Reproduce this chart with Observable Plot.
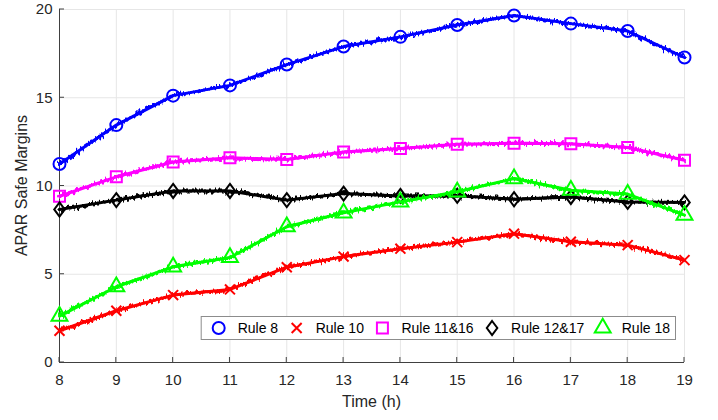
<!DOCTYPE html>
<html>
<head>
<meta charset="utf-8">
<script src="https://cdn.jsdelivr.net/npm/d3@7"></script>
<script src="https://cdn.jsdelivr.net/npm/@observablehq/plot@0.6"></script>
<style>
  html, body { margin: 0; padding: 0; background: #ffffff; }
  #chart { width: 718px; height: 420px; overflow: hidden; }
</style>
</head>
<body>
<div id="chart"></div>
<script>
// Hourly samples of the APAR safe margin for each rule
const hours = [8, 9, 10, 11, 12, 13, 14, 15, 16, 17, 18, 19];
const rule8    = [11.25, 13.45, 15.12, 15.70, 16.88, 17.90, 18.45, 19.12, 19.66, 19.20, 18.78, 17.28];
const rule10   = [1.80, 2.93, 3.82, 4.14, 5.40, 6.00, 6.45, 6.82, 7.30, 6.84, 6.65, 5.80];
const rule1116 = [9.42, 10.52, 11.36, 11.60, 11.50, 11.93, 12.12, 12.36, 12.42, 12.40, 12.18, 11.46];
const rule1217 = [8.67, 9.20, 9.72, 9.72, 9.20, 9.57, 9.44, 9.45, 9.25, 9.38, 9.10, 9.07];
const rule18   = [2.63, 4.29, 5.42, 5.95, 7.69, 8.48, 9.10, 9.67, 10.42, 9.76, 9.54, 8.35];

const seriesNames  = ["Rule 8", "Rule 10", "Rule 11&16", "Rule 12&17", "Rule 18"];
const seriesValues = [rule8, rule10, rule1116, rule1217, rule18];
const seriesColors = ["#0000ff", "#ff0000", "#ff00ff", "#000000", "#00ff00"];

const xTicks = [8, 9, 10, 11, 12, 13, 14, 15, 16, 17, 18, 19];
const yTicks = [0, 5, 10, 15, 20];
const xDomain = [8, 19];
const yDomain = [0, 20];

// Diamond marker that is a little taller than it is wide
const diamondTall = {
  draw(ctx, size) {
    const h = Math.sqrt(size) * 0.66, w = h * 0.75;
    ctx.moveTo(0, -h); ctx.lineTo(w, 0); ctx.lineTo(0, h); ctx.lineTo(-w, 0); ctx.closePath();
  }
};
const seriesSymbols = [d3.symbolCircle, d3.symbolTimes, d3.symbolSquare, diamondTall, d3.symbolTriangle];
const seriesRadius  = [6, 4.6, 6.2, 6, 5.9];

const rows = seriesNames.flatMap((name, i) =>
  hours.map((h, j) => ({name, time: h, value: seriesValues[i][j]})));

const FONT = "'Liberation Sans', Arial, Helvetica, sans-serif";
const AXIS = "#404040";

const seriesMarks = seriesNames.flatMap((name, i) => {
  const data = rows.filter(d => d.name === name);
  return [
    Plot.line(data, {x: "time", y: "value", stroke: seriesColors[i], strokeWidth: 3}),
    Plot.dot(data, {x: "time", y: "value", stroke: seriesColors[i], fill: "none",
                    strokeWidth: 2, symbol: seriesSymbols[i], r: seriesRadius[i]})
  ];
});

const chart = Plot.plot({
  width: 718,
  height: 420,
  marginLeft: 59,
  marginRight: 34,
  marginTop: 9,
  marginBottom: 58,
  style: {fontFamily: FONT, fontSize: "15px", color: "#262626", background: "#ffffff"},
  x: {domain: xDomain},
  y: {domain: yDomain},
  marks: [
    Plot.gridX(xTicks, {stroke: "#e6e6e6", strokeOpacity: 1}),
    Plot.gridY(yTicks, {stroke: "#e6e6e6", strokeOpacity: 1}),
    Plot.ruleY([yDomain[0]], {stroke: AXIS, strokeWidth: 1}),
    Plot.ruleX([xDomain[0]], {stroke: AXIS, strokeWidth: 1}),
    Plot.axisX(xTicks, {tickSize: 0, tickPadding: 12, label: null, tickFormat: d => String(d), fill: "#262626"}),
    Plot.axisY(yTicks, {tickSize: 0, tickPadding: 7, label: null, tickFormat: d => String(d), fill: "#262626"}),
    ...seriesMarks
  ]
});

document.getElementById("chart").appendChild(chart);

const svg = d3.select(chart);
const sx = chart.scale("x"), sy = chart.scale("y");
const x0 = sx.apply(xDomain[0]), x1 = sx.apply(xDomain[1]);
const y0 = sy.apply(yDomain[0]), y1 = sy.apply(yDomain[1]);

// short inward tick marks
const tickG = svg.append("g").attr("stroke", AXIS).attr("stroke-width", 1);
xTicks.forEach(t => {
  const x = sx.apply(t);
  tickG.append("line").attr("x1", x).attr("x2", x).attr("y1", y0).attr("y2", y0 - 5);
});
yTicks.forEach(t => {
  const y = sy.apply(t);
  tickG.append("line").attr("x1", x0).attr("x2", x0 + 5).attr("y1", y).attr("y2", y);
});
tickG.lower();
svg.selectAll('g[aria-label="x-grid"], g[aria-label="y-grid"]').lower();

// jittery rendering of the measured traces
svg.insert("defs", ":first-child").html(`
  <filter id="jit" filterUnits="userSpaceOnUse" x="0" y="0" width="718" height="420">
    <feTurbulence type="fractalNoise" baseFrequency="0.45 0.06" numOctaves="2" seed="7" result="n"/>
    <feDisplacementMap in="SourceGraphic" in2="n" scale="9" xChannelSelector="R" yChannelSelector="G" result="d"/>
    <feMerge><feMergeNode in="d"/><feMergeNode in="SourceGraphic"/></feMerge>
  </filter>`);
svg.selectAll('g[aria-label="line"]').attr("filter", "url(#jit)");

// axis titles
svg.append("text")
  .attr("x", (x0 + x1) / 2).attr("y", 407)
  .attr("text-anchor", "middle")
  .attr("fill", "#262626").attr("font-size", 16).attr("font-family", FONT)
  .text("Time (h)");
svg.append("text")
  .attr("transform", `translate(27,${(y0 + y1) / 2}) rotate(-90)`)
  .attr("text-anchor", "middle")
  .attr("fill", "#262626").attr("font-size", 16).attr("font-family", FONT)
  .text("APAR Safe Margins");

// legend box in the lower-right corner of the axes
const lg = svg.append("g").attr("font-family", FONT).attr("font-size", 14);
const box = lg.append("rect").attr("fill", "#ffffff").attr("stroke", "#8c8c8c").attr("stroke-width", 1);
const itemsG = lg.append("g");
let cursor = 18;
seriesNames.forEach((name, i) => {
  const r = seriesRadius[i];
  itemsG.append("path")
    .attr("d", d3.symbol(seriesSymbols[i], Math.PI * r * r)())
    .attr("transform", `translate(${cursor},0)`)
    .attr("fill", "none").attr("stroke", seriesColors[i]).attr("stroke-width", 2);
  const t = itemsG.append("text")
    .attr("x", cursor + 19).attr("y", 0).attr("dy", "0.35em")
    .attr("text-anchor", "start")
    .attr("fill", "#000000").text(name);
  cursor += 19 + t.node().getComputedTextLength() + 18.5;
});
const boxW = cursor - 18.5 + 5, boxH = 23;
const bx = x1 - 9 - boxW, by = y0 - 23 - boxH;
box.attr("x", bx + 0.5).attr("y", by + 0.5).attr("width", boxW).attr("height", boxH);
itemsG.attr("transform", `translate(${bx},${by + boxH / 2 + 0.5})`);
</script>
</body>
</html>
